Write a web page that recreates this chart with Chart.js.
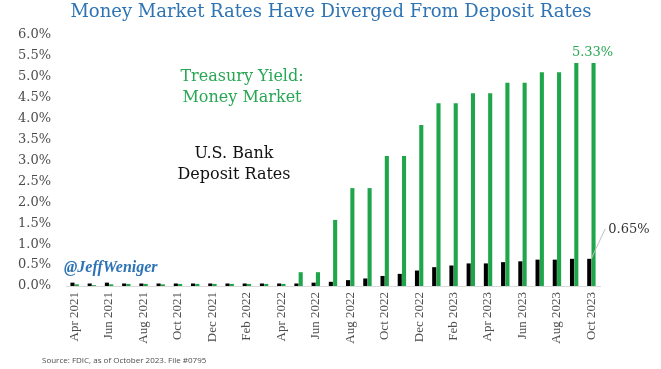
<!DOCTYPE html>
<html>
<head>
  <meta charset="UTF-8">
  <title>Money Market vs Deposit Rates</title>
  <script src="https://cdn.jsdelivr.net/npm/chart.js@4.4.0/dist/chart.umd.min.js"></script>
  <style>
    body { margin: 0; background: #fff; }
    #wrap { width: 661px; height: 369px; }
  </style>
</head>
<body>
<div id="wrap"><canvas id="myChart" width="661" height="369"></canvas></div>

<script>
  // monthly, Apr 2021 .. Oct 2023
  var months = [
    "Apr 2021", "May 2021", "Jun 2021", "Jul 2021", "Aug 2021", "Sep 2021", "Oct 2021", "Nov 2021",
    "Dec 2021", "Jan 2022", "Feb 2022", "Mar 2022", "Apr 2022", "May 2022", "Jun 2022", "Jul 2022",
    "Aug 2022", "Sep 2022", "Oct 2022", "Nov 2022", "Dec 2022", "Jan 2023", "Feb 2023", "Mar 2023",
    "Apr 2023", "May 2023", "Jun 2023", "Jul 2023", "Aug 2023", "Sep 2023", "Oct 2023"
  ];
  var depositRates = [
    0.08, 0.06, 0.08, 0.06, 0.06, 0.06, 0.06, 0.06, 0.06, 0.06, 0.06, 0.06, 0.06, 0.06, 0.08, 0.10,
    0.14, 0.18, 0.24, 0.29, 0.37, 0.45, 0.49, 0.54, 0.54, 0.57, 0.59, 0.63, 0.63, 0.65, 0.65
  ];
  var treasuryYield = [
    0.04, 0.02, 0.04, 0.05, 0.05, 0.04, 0.05, 0.05, 0.05, 0.05, 0.05, 0.05, 0.05, 0.33, 0.33, 1.58,
    2.34, 2.34, 3.11, 3.11, 3.85, 4.37, 4.37, 4.61, 4.61, 4.86, 4.86, 5.11, 5.11, 5.33, 5.33
  ];
  var yMax = 6;
  var yStep = 0.5;

  var green = "#1fa64a";
  var textGreen = "#27a653";
  var blue = "#2e74b5";
  var gray = "#4d4d4d";

  // text labels drawn on top of the chart
  var annotate = {
    id: "annotate",
    afterDraw: function (chart) {
      var ctx = chart.ctx;
      ctx.save();
      ctx.textAlign = "center";
      ctx.textBaseline = "middle";

      ctx.fillStyle = blue;
      ctx.font = '18px "DejaVu Serif"';
      ctx.fillText("Money Market Rates Have Diverged From Deposit Rates", 331, 12);

      ctx.fillStyle = textGreen;
      ctx.font = '16px "DejaVu Serif"';
      ctx.fillText("Treasury Yield:", 242, 77);
      ctx.fillText("Money Market", 242, 98);

      ctx.fillStyle = "#111";
      ctx.fillText("U.S. Bank", 234, 154);
      ctx.fillText("Deposit Rates", 234, 175);

      ctx.textAlign = "left";
      ctx.fillStyle = blue;
      ctx.font = 'italic bold 16px "Liberation Serif"';
      ctx.fillText("@JeffWeniger", 64, 268);

      // end-of-series value labels
      var gBar = chart.getDatasetMeta(1).data[treasuryYield.length - 1];
      ctx.textAlign = "center";
      ctx.fillStyle = textGreen;
      ctx.font = '13px "DejaVu Serif"';
      ctx.fillText(treasuryYield[treasuryYield.length - 1].toFixed(2) + "%", gBar.x - 1, gBar.y - 10);

      var bBar = chart.getDatasetMeta(0).data[depositRates.length - 1];
      ctx.strokeStyle = "#bfbfbf";
      ctx.lineWidth = 1;
      ctx.beginPath();
      ctx.moveTo(bBar.x + 2, bBar.y);
      ctx.lineTo(bBar.x + 16, bBar.y - 30);
      ctx.stroke();
      ctx.textAlign = "left";
      ctx.fillStyle = "#333";
      ctx.fillText(depositRates[depositRates.length - 1].toFixed(2) + "%", bBar.x + 19, bBar.y - 29);

      ctx.fillStyle = gray;
      ctx.font = '8px "Open Sans"';
      ctx.fillText("Source: FDIC, as of October 2023. File #0795", 42, 361);
      ctx.restore();
    }
  };

  new Chart("myChart", {
    type: "bar",
    data: {
      labels: months,
      datasets: [{
        label: "U.S. Bank Deposit Rates",
        data: depositRates,
        backgroundColor: "#000"
      }, {
        label: "Treasury Yield: Money Market",
        data: treasuryYield,
        backgroundColor: green
      }]
    },
    options: {
      responsive: false,
      animation: false,
      datasets: { bar: { categoryPercentage: 0.5, barPercentage: 0.95 } },
      layout: { padding: { left: 0, right: 61, top: 35, bottom: 23 } },
      plugins: {
        legend: { display: false },
        title: { display: false },
        tooltip: { enabled: false }
      },
      scales: {
        x: {
          grid: { display: false, drawTicks: false },
          border: { color: "#d9d9d9" },
          ticks: {
            autoSkip: false,
            maxRotation: 90,
            minRotation: 90,
            padding: 6,
            color: gray,
            font: { family: "Liberation Serif", size: 13 },
            callback: function (val, i) { return i % 2 === 0 ? months[i] : ""; }
          },
          afterFit: function (scale) { scale.height = 60; }
        },
        y: {
          min: 0,
          max: yMax,
          grid: { display: false, drawTicks: false },
          border: { display: false },
          ticks: {
            stepSize: yStep,
            padding: 15,
            color: gray,
            font: { family: "DejaVu Serif", size: 13 },
            callback: function (v) { return v.toFixed(1) + "%"; }
          },
          afterFit: function (scale) { scale.width = 66; }
        }
      }
    },
    plugins: [annotate]
  });
</script>
</body>
</html>
